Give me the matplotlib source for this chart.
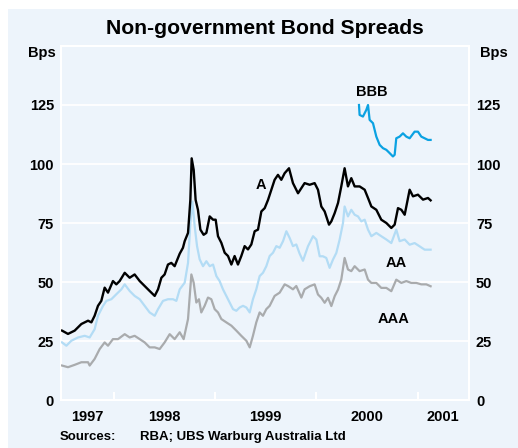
import matplotlib
matplotlib.use("Agg")
import matplotlib.pyplot as plt
from matplotlib.patches import Rectangle

# Spreads in basis points, dates as decimal years
a_dates = [
    1997.490, 1997.549, 1997.615, 1997.681, 1997.747, 1997.780, 1997.812, 1997.845,
    1997.878, 1997.911, 1997.944, 1997.993, 1998.026, 1998.059, 1998.109, 1998.158,
    1998.207, 1998.257, 1998.306, 1998.355, 1998.405, 1998.438, 1998.471, 1998.503,
    1998.536, 1998.569, 1998.602, 1998.652, 1998.684, 1998.701, 1998.734, 1998.757,
    1998.770, 1998.790, 1998.809, 1998.832, 1998.856, 1998.888, 1998.915, 1998.948,
    1998.981, 1999.007, 1999.030, 1999.063, 1999.096, 1999.129, 1999.162, 1999.194,
    1999.227, 1999.260, 1999.293, 1999.326, 1999.359, 1999.392, 1999.425, 1999.458,
    1999.491, 1999.524, 1999.556, 1999.589, 1999.622, 1999.655, 1999.688, 1999.731,
    1999.770, 1999.820, 1999.885, 1999.935, 1999.984, 2000.017, 2000.050, 2000.083,
    2000.126, 2000.149, 2000.182, 2000.215, 2000.247, 2000.280, 2000.313, 2000.346,
    2000.379, 2000.428, 2000.478, 2000.511, 2000.544, 2000.593, 2000.642, 2000.692,
    2000.741, 2000.774, 2000.807, 2000.840, 2000.873, 2000.922, 2000.955, 2001.004,
    2001.054, 2001.103, 2001.129,
]
a_values = [
    29.4, 28.0, 29.4, 32.2, 33.6, 32.9, 35.7, 39.9,
    42.0, 47.6, 45.5, 50.4, 49.0, 50.4, 53.9, 51.8,
    53.2, 50.4, 48.3, 46.2, 44.1, 46.9, 51.8, 53.2,
    57.4, 58.1, 56.7, 62.0, 64.5, 67.3, 70.8, 84.8,
    102.4, 97.5, 84.8, 80.6, 72.2, 70.0, 70.8, 77.8,
    76.4, 76.4, 69.4, 66.6, 62.4, 61.0, 57.4, 61.0,
    57.4, 61.0, 65.2, 63.8, 65.9, 71.5, 72.2, 79.9,
    81.3, 84.8, 89.0, 93.3, 95.4, 93.3, 96.1, 98.2,
    91.9, 87.6, 91.9, 91.2, 91.9, 89.1, 82.0, 79.9,
    74.3, 75.7, 79.2, 83.5, 90.5, 98.2, 90.5, 94.0,
    90.5, 90.5, 89.1, 85.6, 82.0, 80.6, 76.4, 75.0,
    72.9, 74.3, 81.3, 80.6, 78.5, 89.1, 86.3, 87.0,
    84.9, 85.6, 84.6,
]

aa_dates = [
    1997.490, 1997.533, 1997.582, 1997.648, 1997.714, 1997.763, 1997.812, 1997.845,
    1997.895, 1997.928, 1997.977, 1998.026, 1998.076, 1998.109, 1998.158, 1998.207,
    1998.257, 1998.306, 1998.355, 1998.405, 1998.438, 1998.487, 1998.536, 1998.586,
    1998.619, 1998.652, 1998.701, 1998.734, 1998.757, 1998.777, 1998.800, 1998.823,
    1998.849, 1998.882, 1998.915, 1998.948, 1998.981, 1999.014, 1999.046, 1999.079,
    1999.112, 1999.145, 1999.178, 1999.211, 1999.244, 1999.277, 1999.310, 1999.343,
    1999.375, 1999.408, 1999.441, 1999.474, 1999.507, 1999.540, 1999.573, 1999.606,
    1999.639, 1999.672, 1999.705, 1999.737, 1999.770, 1999.803, 1999.836, 1999.869,
    1999.918, 1999.968, 2000.001, 2000.034, 2000.066, 2000.099, 2000.132, 2000.165,
    2000.198, 2000.231, 2000.264, 2000.280, 2000.313, 2000.346, 2000.379, 2000.412,
    2000.445, 2000.478, 2000.511, 2000.544, 2000.593, 2000.642, 2000.692, 2000.741,
    2000.790, 2000.823, 2000.873, 2000.922, 2000.971, 2001.021, 2001.070, 2001.129,
]
aa_values = [
    24.4, 23.0, 25.1, 26.5, 27.2, 26.5, 30.0, 35.7,
    39.9, 42.0, 42.7, 44.8, 46.9, 49.0, 46.2, 44.1,
    42.7, 39.9, 37.1, 35.7, 38.5, 42.0, 42.7, 42.7,
    42.0, 46.9, 49.7, 58.1, 75.0, 84.1, 73.6, 65.2,
    59.6, 56.7, 58.8, 56.7, 57.4, 52.5, 50.4, 46.9,
    44.1, 41.3, 38.5, 37.8, 39.2, 39.9, 39.2, 37.1,
    42.7, 46.9, 52.5, 53.9, 56.7, 61.0, 62.4, 65.2,
    64.5, 67.3, 71.5, 68.7, 65.2, 65.9, 62.0, 59.0,
    65.1, 69.4, 68.0, 60.9, 60.9, 60.2, 56.0, 59.5,
    62.3, 68.0, 75.0, 82.0, 77.8, 80.6, 78.5, 77.8,
    75.7, 76.4, 72.2, 69.4, 70.8, 69.4, 68.0, 66.5,
    72.2, 67.3, 68.0, 65.8, 66.5, 65.1, 63.7, 63.7,
]

aaa_dates = [
    1997.490, 1997.549, 1997.615, 1997.681, 1997.747, 1997.763, 1997.812, 1997.862,
    1997.911, 1997.944, 1997.993, 1998.043, 1998.109, 1998.158, 1998.207, 1998.257,
    1998.306, 1998.355, 1998.405, 1998.454, 1998.503, 1998.553, 1998.602, 1998.652,
    1998.691, 1998.734, 1998.767, 1998.790, 1998.816, 1998.842, 1998.865, 1998.898,
    1998.931, 1998.964, 1998.997, 1999.030, 1999.063, 1999.112, 1999.162, 1999.211,
    1999.260, 1999.310, 1999.343, 1999.375, 1999.408, 1999.441, 1999.474, 1999.507,
    1999.540, 1999.589, 1999.639, 1999.688, 1999.721, 1999.770, 1999.803, 1999.853,
    1999.885, 1999.935, 1999.984, 2000.017, 2000.050, 2000.083, 2000.116, 2000.149,
    2000.182, 2000.215, 2000.247, 2000.280, 2000.313, 2000.346, 2000.379, 2000.428,
    2000.478, 2000.511, 2000.544, 2000.593, 2000.642, 2000.692, 2000.741, 2000.790,
    2000.840, 2000.889, 2000.938, 2000.988, 2001.037, 2001.087, 2001.129,
]
aaa_values = [
    14.6, 13.9, 14.9, 16.0, 16.0, 14.6, 17.4, 21.6,
    24.4, 23.0, 25.8, 25.8, 27.9, 26.5, 27.2, 25.8,
    24.4, 22.3, 22.3, 21.6, 24.4, 27.9, 25.8, 28.7,
    25.8, 34.3, 53.2, 49.7, 41.3, 42.7, 37.1, 39.9,
    43.4, 42.7, 38.5, 37.1, 34.3, 32.9, 31.5, 29.4,
    27.2, 25.1, 22.3, 27.2, 32.9, 37.1, 35.7, 38.5,
    39.9, 44.1, 45.5, 49.0, 48.3, 46.9, 48.3, 43.4,
    46.9, 48.2, 49.0, 44.7, 43.3, 41.2, 43.3, 39.8,
    44.0, 46.8, 51.0, 60.2, 55.3, 54.6, 56.7, 54.6,
    55.3, 51.0, 49.6, 49.6, 47.5, 47.5, 46.1, 51.0,
    49.6, 50.4, 49.6, 49.6, 49.0, 49.0, 48.2,
]

bbb_dates = [
    2000.422, 2000.428, 2000.461, 2000.494, 2000.511, 2000.527, 2000.560, 2000.593,
    2000.626, 2000.659, 2000.692, 2000.725, 2000.757, 2000.774, 2000.790, 2000.823,
    2000.856, 2000.889, 2000.922, 2000.971, 2001.004, 2001.037, 2001.070, 2001.103,
    2001.129,
]
bbb_values = [
    125.0, 120.8, 120.1, 122.9, 125.0, 118.7, 117.3, 111.6,
    108.1, 106.7, 106.0, 104.6, 103.2, 103.9, 110.9, 111.6,
    113.0, 111.6, 110.9, 113.7, 113.7, 111.6, 110.9, 110.2,
    110.2,
]

y_ticks = [0, 25, 50, 75, 100, 125]
year_starts = [1998, 1999, 2000, 2001]
year_labels = ["1997", "1998", "1999", "2000", "2001"]
x_min, x_max = 1997.48, 2001.508

BG = "#edf4fb"
FONT = "Liberation Sans"

plt.rcParams.update({"font.family": FONT, "font.weight": "bold"})

fig = plt.figure(figsize=(5.18, 4.48), dpi=100)
fig.patches.append(
    Rectangle((8 / 518, 0), 510 / 518, 439 / 448, transform=fig.transFigure,
              facecolor=BG, edgecolor="none", zorder=-5)
)

ax = fig.add_axes([61 / 518, 48 / 448, 408 / 518, 354 / 448])
ax.set_zorder(2)
ax.set_facecolor(BG)
ax.set_xlim(x_min, x_max)
ax.set_ylim(0, 150)

for s in ax.spines.values():
    s.set_color("white")
    s.set_linewidth(1.5)

for v in y_ticks[1:]:
    ax.axhline(v, color="white", lw=1.3, zorder=1)

ax.plot(aaa_dates, aaa_values, color="#a9abad", lw=1.6, zorder=3)
ax.plot(aa_dates, aa_values, color="#b3dcf5", lw=1.6, zorder=4)
ax.plot(a_dates, a_values, color="black", lw=1.7, zorder=5)
ax.plot(bbb_dates, bbb_values, color="#0ba2e2", lw=1.6, zorder=5)

ax.set_yticks(y_ticks)
ax.set_yticklabels([str(v) for v in y_ticks])
ax.tick_params(axis="y", length=0, labelsize=10.5, labelleft=True, labelright=True,
               left=False, right=False, pad=5)

# year boundaries as white inward ticks, labels centred in each year span
ax.set_xticks(year_starts)
ax.set_xticklabels([])
ax.tick_params(axis="x", which="major", direction="in", length=6, width=1.5,
               color="white")
mids = [(x_min + 1998) / 2, 1998.5, 1999.5, 2000.5, (2001 + x_max) / 2]
ax.set_xticks(mids, minor=True)
ax.set_xticklabels(year_labels, minor=True, fontsize=10.5, fontweight="bold")
ax.tick_params(axis="x", which="minor", length=0, pad=7)

ax.text(1999.452, 91.1, "A", fontsize=10.5, fontweight="bold", ha="center", va="center")
ax.text(2000.794, 58.2, "AA", fontsize=10.5, fontweight="bold", ha="center", va="center")
ax.text(2000.767, 34.3, "AAA", fontsize=10.5, fontweight="bold", ha="center", va="center")
ax.text(2000.550, 130.5, "BBB", fontsize=10.5, fontweight="bold", ha="center", va="center")

fig.text(265 / 518, 1 - 29 / 448, "Non-government Bond Spreads", fontsize=15.2,
         fontweight="bold", ha="center", va="center")
fig.text(42 / 518, 1 - 53 / 448, "Bps", fontsize=10.5, fontweight="bold",
         ha="center", va="center")
fig.text(494 / 518, 1 - 53 / 448, "Bps", fontsize=10.5, fontweight="bold",
         ha="center", va="center")
fig.text(60 / 518, 1 - 437 / 448, "Sources:", fontsize=9.5, fontweight="bold",
         ha="left", va="center")
fig.text(140 / 518, 1 - 437 / 448, "RBA; UBS Warburg Australia Ltd", fontsize=9.5,
         fontweight="bold", ha="left", va="center")

fig.savefig("out.png", dpi=100, facecolor="white")
